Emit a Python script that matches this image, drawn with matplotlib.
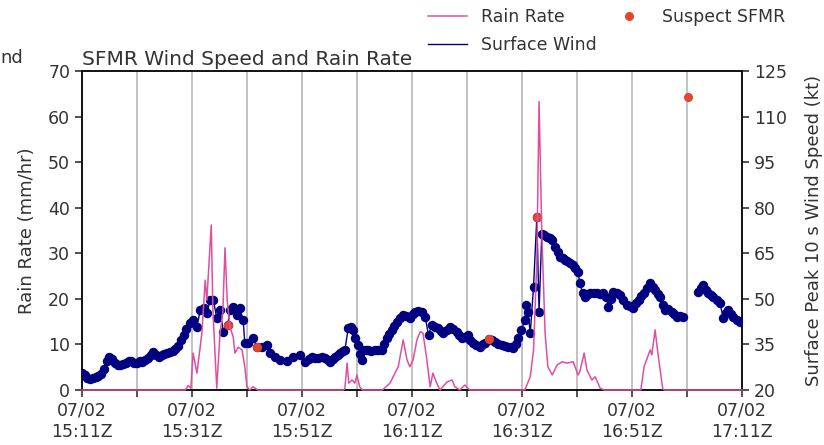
import numpy as np
import pandas as pd
import matplotlib
matplotlib.use('Agg')
import matplotlib.pyplot as plt
import matplotlib.dates as mdates

# --- DATA (minutes after 07/02 15:11Z) ---
START = pd.Timestamp("2024-07-02 15:11")

wind_min = [0, 0.5, 1, 1.5, 2, 2.5, 3, 3.5, 4, 4.5, 5, 5.5, 6, 6.5, 7, 7.5, 8, 8.5, 9, 9.5,
            10, 10.5, 11, 11.5, 12, 12.5, 13, 13.5, 14, 14.5, 15, 15.5, 16, 16.5, 17, 17.5,
            18, 18.5, 19, 19.6, 20.2, 20.9, 21.5, 22.1, 22.7, 23.3, 23.9, 24.5, 25.1, 25.7,
            26.5, 26.9, 27.5, 28.1, 28.7, 29.3, 29.6, 30.2, 31.1, 31.8, 32.7, 33.6, 34.2, 35.1,
            36.0, 37.2, 38.4, 39.6, 40.5, 41.2, 41.8, 42.4, 43.0, 43.6, 44.2, 44.7, 45.1, 45.6,
            46.0, 46.5, 46.9, 47.4, 47.8, 48.4, 48.9, 49.3, 49.7, 50.1, 50.5, 50.9, 51.1, 51.6,
            52.0, 52.6, 53.2, 53.8, 54.5, 55.0, 55.4, 55.9, 56.3, 56.8, 57.2, 57.8, 58.4, 59.0,
            59.6, 60.1, 60.5, 61.1, 61.8, 62.4, 63.0, 63.6, 64.2, 64.8, 65.3, 65.7, 66.3, 66.9,
            67.5, 68.1, 68.5, 69.0, 69.6, 70.2, 70.6, 71.1, 71.7, 72.4, 72.9, 73.3, 74.0, 74.5,
            75.1, 75.7, 76.3, 76.9, 77.5, 78.0, 78.4, 78.9, 79.3, 79.9, 80.5, 80.8, 81.1, 81.5,
            82.1, 82.7, 83.1, 83.6, 84.0, 84.5, 85.0, 85.4, 86.0, 86.5, 86.9, 87.4, 87.8, 88.2,
            88.7, 89.2, 89.6, 90.2, 90.5, 91.0, 91.5, 92.0, 92.4, 93.0, 93.6, 94.2, 94.8, 95.3,
            95.7, 96.2, 96.6, 97.2, 97.8, 98.4, 99.0, 99.6, 100.2, 100.7, 101.2, 101.7, 102.1,
            102.7, 103.3, 103.8, 104.2, 104.7, 105.1, 105.6, 106.0, 106.6, 107.2, 107.7, 108.1,
            108.7, 109.3, 110.2, 112.0, 112.5, 112.9, 113.4, 113.9, 114.4, 114.8, 115.4, 116.0,
            116.6, 117.0, 117.5, 118.0, 118.4, 119.0, 119.6]
wind_kt = [25.6, 24.8, 24.0, 23.6, 24.0, 24.3, 24.5, 25.2, 27.0, 29.5, 31.0, 30.3, 29.0, 28.2, 28.2, 28.6, 29.0, 29.4, 29.6, 29.0,
           28.9, 29.5, 29.2, 30.0, 30.6, 31.5, 32.6, 31.6, 30.8, 31.5, 32.0, 32.2, 32.6, 33.0, 33.6, 34.6,
           36.5, 38.0, 40.0, 41.9, 43.0, 40.8, 46.3, 46.9, 45.2, 49.6, 49.6, 43.6, 46.3, 39.2,
           41.4, 46.3, 47.4, 44.7, 46.9, 43.0, 35.4, 35.4, 37.0, 34.2, 34.2, 34.8, 32.1, 31.0,
           30.0, 29.5, 31.0, 31.5, 29.3, 30.2, 31.0, 30.5, 30.4, 30.8, 30.4, 29.8, 29.3, 30.2,
           31.0, 31.6, 32.1, 32.8, 33.2, 40.3, 40.6, 39.7, 37.0, 34.8, 32.0, 29.9, 33.2, 33.2,
           33.2, 33.0, 33.2, 33.2, 33.2, 35.2, 37.0, 38.5, 39.7, 41.2, 42.5, 43.8, 44.7, 44.2,
           43.6, 45.0, 45.8, 46.0, 45.8, 44.1, 38.1, 41.4, 40.8, 40.3, 39.5, 38.6, 39.6, 40.8,
           40.0, 39.2, 38.0, 37.0, 37.6, 38.1, 36.6, 35.4, 34.8, 34.3, 35.0, 35.4, 36.7, 36.3,
           35.9, 35.3, 34.8, 34.6, 34.3, 34.0, 33.7, 35.3, 37.0, 39.7, 43.0, 48.0, 45.8, 38.6,
           54.0, 77.0, 45.8, 71.5, 71.0, 70.4, 70.0, 69.3, 67.1, 65.5, 63.9, 63.5, 62.8, 62.5,
           61.7, 61.0, 60.0, 58.9, 55.1, 52.0, 50.7, 51.5, 51.8, 51.8, 51.8, 51.5, 51.8, 50.5,
           47.4, 50.0, 52.3, 51.8, 51.2, 49.5, 48.0, 47.5, 46.9, 48.5, 49.6, 50.8, 51.8,
           53.5, 55.1, 54.0, 52.9, 51.5, 50.7, 48.0, 46.3, 46.5, 45.8, 45.0, 44.1,
           44.5, 44.1, np.nan, 52.3, 53.5, 54.5, 53.0, 51.8, 51.2, 50.7, 49.5, 48.5,
           43.6, 45.5, 46.3, 45.0, 44.1, 43.2, 42.5]

rain_min = [0, 18.8, 19.3, 19.8, 20.2, 20.9, 21.8, 22.4, 22.7, 23.5, 23.8, 24.5, 25.1, 25.6,
            26.0, 26.4, 26.9, 27.5, 27.8, 28.4, 29.1, 29.6, 30.0, 30.5, 31.1, 31.6, 32.0,
            47.6, 47.8, 48.2, 48.5, 49.1, 49.6, 50.0, 50.5, 51.0,
            54.6, 56.0, 56.9, 57.5, 58.4, 59.1, 59.6, 60.2, 60.9, 61.5, 62.0, 62.7, 63.3, 63.8,
            64.5, 65.1, 66.4, 67.3, 67.8, 68.7, 69.6, 70.5,
            80.5, 81.5, 82.1, 82.7, 83.1, 83.6, 84.2, 84.7, 85.5, 86.4, 87.3, 88.2, 89.3, 90.2,
            90.5, 91.3, 91.8, 92.7, 93.3, 94.2, 95.0,
            101.6, 102.2, 103.3, 103.6, 104.2, 104.7, 105.6, 106.0, 120]
rain_mm = [0, 0, 1.0, 0.4, 8.1, 3.7, 12.5, 24.1, 19.7, 36.2, 17.6, 0.4, 12.5, 16.9,
           31.2, 19.7, 13.8, 11.6, 8.1, 9.4, 8.8, 5.1, 0.7, 0, 0.7, 0.3, 0,
           0, 0.4, 5.9, 1.5, 2.2, 1.5, 3.3, 0.7, 0,
           0, 1.5, 3.7, 5.1, 11.0, 6.6, 5.1, 6.6, 11.0, 12.8, 12.5, 6.6, 0.7, 3.7,
           1.5, 0, 1.8, 2.2, 0.7, 0, 1.1, 0,
           0, 2.9, 8.8, 28.5, 63.3, 34.4, 12.5, 5.1, 3.3, 5.5, 6.2, 5.9, 6.2, 3.3,
           4.0, 8.1, 4.4, 2.2, 2.9, 0.4, 0,
           0, 5.1, 8.8, 7.7, 13.2, 8.1, 0.2, 0, 0]

suspect_min = [26.5, 31.8, 74.0, 82.7, 110.2]
suspect_kt = [41.4, 34.2, 36.7, 77.0, 116.4]

RAIN_COLOR = '#df4f9f'
WIND_COLOR = '#000080'
SUSPECT_COLOR = '#e4452d'


def to_time(mins):
    return START + pd.to_timedelta(mins, unit='m')


wind_t = to_time(wind_min)
rain_t = to_time(rain_min)
susp_t = to_time(suspect_min)

fig = plt.figure(figsize=(8.24, 4.45), dpi=100)
ax = fig.add_axes([0.0995, 0.1236, 0.801, 0.7168])
ax2 = ax.twinx()   # wind speed (right)
ax3 = ax.twinx()   # rain drawn on top, shares the left scale

# wind
wind_line, = ax2.plot(wind_t, wind_kt, color=WIND_COLOR, lw=1.0, label='Surface Wind', zorder=2)
ax2.plot(wind_t, wind_kt, 'o', color=WIND_COLOR, ms=5.8, zorder=3)
susp, = ax2.plot(susp_t, suspect_kt, 'o', color=SUSPECT_COLOR, ms=5.5, ls='none',
                 label='Suspect SFMR', zorder=4)

# rain
rain_line, = ax3.plot(rain_t, rain_mm, color=RAIN_COLOR, lw=1.1, label='Rain Rate',
                      zorder=5, clip_on=False)

x0, x1 = START, START + pd.Timedelta(minutes=120)
for a in (ax, ax2, ax3):
    a.set_xlim(x0, x1)
ax.set_ylim(0, 70)
ax3.set_ylim(0, 70)
ax3.axis('off')
ax2.set_ylim(20, 125)
ax2.set_yticks(np.arange(20, 126, 15))
ax.set_yticks(np.arange(0, 71, 10))

ax.xaxis.set_major_locator(mdates.MinuteLocator(byminute=[11, 31, 51]))
ax.xaxis.set_minor_locator(mdates.MinuteLocator(byminute=[1, 21, 41]))
ax.xaxis.set_major_formatter(mdates.DateFormatter('%m/%d\n%H:%MZ'))
ax.grid(axis='x', which='both', color='#b8b8b8', lw=1.2)

for a in (ax, ax2):
    a.tick_params(axis='both', which='both', labelsize=12.5, length=5, width=1.1,
                  colors='#222222', labelcolor='#333333')
    for s in a.spines.values():
        s.set_linewidth(1.2)
        s.set_color('#111111')

ax.set_ylabel('Rain Rate (mm/hr)', fontsize=13, color='#333333', labelpad=9)
ax2.set_ylabel('Surface Peak 10 s Wind Speed (kt)', fontsize=13, color='#333333', labelpad=13)
ax.set_title('SFMR Wind Speed and Rain Rate', loc='left', fontsize=14.5, color='#333333', pad=4)

# fragment of a neighbouring panel's label, as seen at the left edge
fig.text(0.001, 0.87, 'nd', fontsize=13, color='#333333', ha='left', va='center')

fig.legend(handles=[rain_line, wind_line, susp], ncol=2, frameon=False,
           loc='upper left', bbox_to_anchor=(0.501, 1.017), fontsize=12.5,
           handlelength=2.2, columnspacing=0.8, labelspacing=0.58,
           labelcolor='#333333')

fig.savefig('out.png', dpi=100)
